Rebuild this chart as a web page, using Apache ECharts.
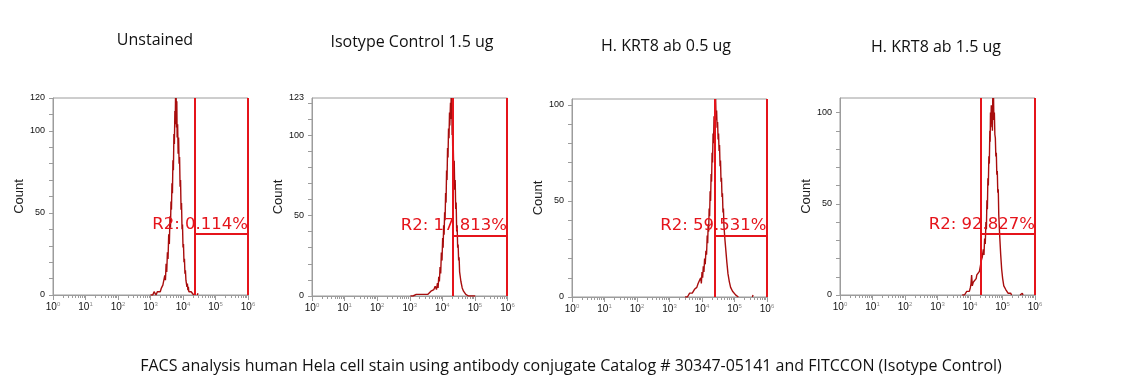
<!DOCTYPE html>
<html>
<head>
<meta charset="utf-8">
<script src="https://cdn.jsdelivr.net/npm/echarts@6/dist/echarts.min.js"></script>
<style>
html,body{margin:0;padding:0;background:#fff;}
#chart{width:1139px;height:392px;}
</style>
</head>
<body>
<div id="chart"></div>
<script>
// ---------------- DATA ----------------
const panelTitles = ['Unstained', 'Isotype Control 1.5 ug', 'H. KRT8 ab 0.5 ug', 'H. KRT8 ab 1.5 ug'];
const caption = 'FACS analysis human Hela cell stain using antibody conjugate Catalog # 30347-05141 and FITCCON (Isotype Control)';
const yAxisName = 'Count';

// x = log10(fluorescence), y = count
const unstained = [[3.00,0],[3.04,1],[3.07,0],[3.11,2],[3.14,1],[3.17,0],[3.21,2],[3.24,1],[3.27,3],[3.30,2],[3.33,4],[3.36,3],[3.38,6],[3.40,7],[3.42,5],[3.44,12],[3.46,9],[3.48,19],[3.50,14],[3.52,26],[3.54,22],[3.56,37],[3.58,31],[3.60,48],[3.615,41],[3.63,57],[3.645,52],[3.66,68],[3.675,62],[3.69,82],[3.705,76],[3.72,98],[3.735,92],[3.75,112],[3.76,104],[3.77,120],[3.78,108],[3.79,120],[3.80,102],[3.81,118],[3.82,96],[3.835,104],[3.85,86],[3.865,96],[3.88,80],[3.895,84],[3.91,66],[3.925,70],[3.94,52],[3.955,56],[3.97,40],[3.985,43],[4.00,29],[4.015,31],[4.03,20],[4.045,22],[4.06,13],[4.075,15],[4.09,9],[4.105,10],[4.12,5],[4.135,7],[4.15,3],[4.165,5],[4.18,2],[4.20,3],[4.22,1],[4.25,2],[4.29,1],[4.33,0],[4.40,null],[4.44,0],[4.46,1],[4.48,0]];
const isotype = [[3.02,0],[3.05,1],[3.10,0],[3.20,1],[3.25,0],[3.32,1],[3.38,0],[3.45,1],[3.50,2],[3.55,1],[3.60,2],[3.65,3],[3.70,2],[3.74,4],[3.78,6],[3.82,4],[3.85,8],[3.87,5],[3.89,12],[3.91,9],[3.93,18],[3.95,14],[3.97,27],[3.99,22],[4.01,36],[4.025,30],[4.04,44],[4.055,38],[4.07,52],[4.085,47],[4.10,64],[4.115,58],[4.13,78],[4.145,72],[4.16,92],[4.175,86],[4.19,104],[4.205,98],[4.22,114],[4.23,106],[4.25,120],[4.26,110],[4.27,123],[4.28,112],[4.29,123],[4.30,100],[4.31,106],[4.32,88],[4.335,94],[4.35,78],[4.365,84],[4.38,66],[4.395,72],[4.41,54],[4.425,58],[4.44,40],[4.455,44],[4.47,30],[4.485,32],[4.50,22],[4.515,24],[4.53,15],[4.55,16],[4.57,9],[4.59,10],[4.61,5],[4.63,6],[4.65,3],[4.68,2],[4.72,1],[4.76,2],[4.80,0],[4.86,1],[4.92,0],[4.97,1],[5.01,0]];
const krt8Low = [[3.48,0],[3.51,1],[3.55,0],[3.58,1],[3.62,2],[3.66,1],[3.70,2],[3.74,3],[3.77,4],[3.80,3],[3.84,5],[3.88,7],[3.92,8],[3.96,10],[3.98,7],[4.00,13],[4.02,10],[4.04,16],[4.06,13],[4.08,20],[4.10,17],[4.12,24],[4.14,22],[4.16,32],[4.175,28],[4.19,38],[4.205,34],[4.22,46],[4.235,42],[4.25,55],[4.265,50],[4.28,64],[4.295,60],[4.31,75],[4.325,70],[4.34,85],[4.355,80],[4.37,94],[4.385,90],[4.40,103],[4.41,96],[4.42,103],[4.435,92],[4.45,97],[4.465,88],[4.48,91],[4.495,82],[4.51,85],[4.525,76],[4.54,79],[4.555,68],[4.57,71],[4.585,60],[4.60,62],[4.615,52],[4.63,54],[4.645,44],[4.66,46],[4.675,37],[4.69,38],[4.705,30],[4.72,31],[4.735,24],[4.75,25],[4.765,18],[4.78,19],[4.80,12],[4.82,12],[4.84,8],[4.86,8],[4.88,5],[4.91,4],[4.94,3],[4.97,2],[5.00,3],[5.04,1],[5.09,2],[5.12,0],[5.30,null],[5.55,0],[5.57,1],[5.59,0]];
const krt8High = [[3.76,0],[3.79,1],[3.83,0],[3.87,1],[3.90,2],[3.93,1],[3.95,3],[3.98,2],[4.01,4],[4.03,6],[4.05,11],[4.07,5],[4.10,7],[4.13,6],[4.16,8],[4.19,9],[4.21,11],[4.24,10],[4.27,12],[4.29,13],[4.32,16],[4.35,19],[4.38,21],[4.41,25],[4.43,22],[4.45,31],[4.47,28],[4.49,40],[4.505,36],[4.52,52],[4.535,47],[4.55,64],[4.565,60],[4.58,76],[4.595,72],[4.61,90],[4.62,84],[4.63,100],[4.64,92],[4.655,104],[4.665,94],[4.68,100],[4.69,90],[4.70,108],[4.71,98],[4.725,108],[4.735,96],[4.75,100],[4.765,88],[4.78,86],[4.795,76],[4.81,78],[4.825,66],[4.84,68],[4.855,56],[4.87,58],[4.885,44],[4.90,45],[4.915,32],[4.93,33],[4.945,22],[4.96,23],[4.975,14],[4.99,15],[5.005,9],[5.02,9],[5.04,5],[5.07,4],[5.10,3],[5.13,2],[5.17,1],[5.21,2],[5.25,1],[5.28,0],[5.40,null],[5.54,0],[5.56,1],[5.58,0],[5.61,1],[5.63,0]];
const histograms = [unstained, isotype, krt8Low, krt8High];

const gateLow = [4.36, 4.32, 4.38, 4.34];
const gateHigh = [6.0, 5.98, 5.98, 6.0];
const gateLevel = [37.2, 37.6, 31.9, 33.5];
const gateLabels = ['R2: 0.114%', 'R2: 17.813%', 'R2: 59.531%', 'R2: 92.827%'];

const yMax = [120, 123, 103, 108];
const yTickLabels = [[0, 50, 100, 120], [0, 50, 100, 123], [0, 50, 100], [0, 50, 100]];
const yMinorStep = 10;
const xDecades = [0, 1, 2, 3, 4, 5, 6];
const minorFactors = [2, 3, 4, 5, 6, 7, 8, 9];

// ---------------- LAYOUT ----------------
const grids = [
  {left: 53, top: 98, width: 195, height: 197},
  {left: 312, top: 98, width: 195.5, height: 198},
  {left: 572, top: 99, width: 195, height: 198},
  {left: 840, top: 98, width: 195, height: 197}
];
const titlePos = [[150, 27], [407, 29], [661, 33], [931, 34]];

const minorTicks = [];
xDecades.slice(0, -1).forEach(d => minorFactors.forEach(f => minorTicks.push(d + Math.log10(f))));

const axisGray = '#9c9c9c';
const gateRed = '#e5141b';
const histRed = '#a80d0d';

const option = {
  animation: false,
  backgroundColor: '#fff',
  title: panelTitles.map((t, i) => ({
    text: t, left: titlePos[i][0], top: titlePos[i][1], textAlign: 'center',
    textStyle: {fontFamily: 'Open Sans', fontWeight: 'normal', fontSize: 16, color: '#111'}
  })).concat([{
    text: caption, left: 566, top: 353, textAlign: 'center',
    textStyle: {fontFamily: 'Open Sans', fontWeight: 'normal', fontSize: 16, color: '#111'}
  }]),
  grid: grids.map(g => Object.assign({show: true, borderColor: axisGray, borderWidth: 1, backgroundColor: 'transparent', containLabel: false, outerBoundsMode: 'none'}, g)),
  xAxis: [],
  yAxis: [],
  series: []
};

grids.forEach((g, i) => {
  option.xAxis.push({
    type: 'value', gridIndex: i, min: 0, max: 6,
    axisLine: {show: true, onZero: false, lineStyle: {color: axisGray}},
    axisTick: {show: true, inside: false, length: 5, customValues: xDecades, lineStyle: {color: axisGray}},
    splitLine: {show: false},
    axisLabel: {
      show: true, customValues: xDecades, margin: 6,
      formatter: v => '{b|10}{s|' + v + '}',
      rich: {
        b: {fontFamily: 'Liberation Sans', fontSize: 10, color: '#111', lineHeight: 12},
        s: {fontFamily: 'Liberation Sans', fontSize: 6, color: '#8a8a8a', verticalAlign: 'top', lineHeight: 6}
      }
    }
  });
  option.xAxis.push({
    type: 'value', gridIndex: i, min: 0, max: 6, position: 'bottom',
    axisLine: {show: false},
    axisTick: {show: true, inside: false, length: 3, customValues: minorTicks, lineStyle: {color: axisGray}},
    axisLabel: {show: false},
    splitLine: {show: false}
  });
  const yTicks = [];
  for (let v = 0; v <= yMax[i]; v += yMinorStep) yTicks.push(v);
  option.yAxis.push({
    type: 'value', gridIndex: i, min: 0, max: yMax[i],
    name: yAxisName, nameLocation: 'middle', nameGap: 26, nameRotate: 90,
    nameTextStyle: {fontFamily: 'Liberation Sans', fontSize: 13, color: '#222'},
    axisLine: {show: true, lineStyle: {color: axisGray}},
    axisTick: {show: true, inside: false, length: 4, customValues: yTicks, lineStyle: {color: axisGray}},
    splitLine: {show: false},
    axisLabel: {show: true, customValues: yTickLabels[i], margin: 8, fontFamily: 'Liberation Sans', fontSize: 9, color: '#111'}
  });
  const gateLineStyle = {color: gateRed, width: 2, type: 'solid'};
  option.series.push({
    type: 'line', xAxisIndex: 2 * i, yAxisIndex: i,
    data: histograms[i], showSymbol: false, symbol: 'none', connectNulls: false,
    lineStyle: {color: histRed, width: 1.4}, clip: true, silent: true,
    markLine: {
      symbol: 'none', silent: true, animation: false,
      lineStyle: gateLineStyle,
      label: {show: false},
      emphasis: {disabled: true},
      data: [
        {xAxis: gateLow[i]},
        {xAxis: gateHigh[i]},
        [
          {coord: [gateLow[i], gateLevel[i]],
           label: {show: true, position: 'insideEndTop', distance: [0, 1], formatter: gateLabels[i],
                   fontFamily: 'DejaVu Sans', fontSize: 16.5, color: gateRed}},
          {coord: [gateHigh[i], gateLevel[i]]}
        ]
      ]
    }
  });
});

const chart = echarts.init(document.getElementById('chart'), null, {renderer: 'canvas'});
chart.setOption(option);
</script>
</body>
</html>
